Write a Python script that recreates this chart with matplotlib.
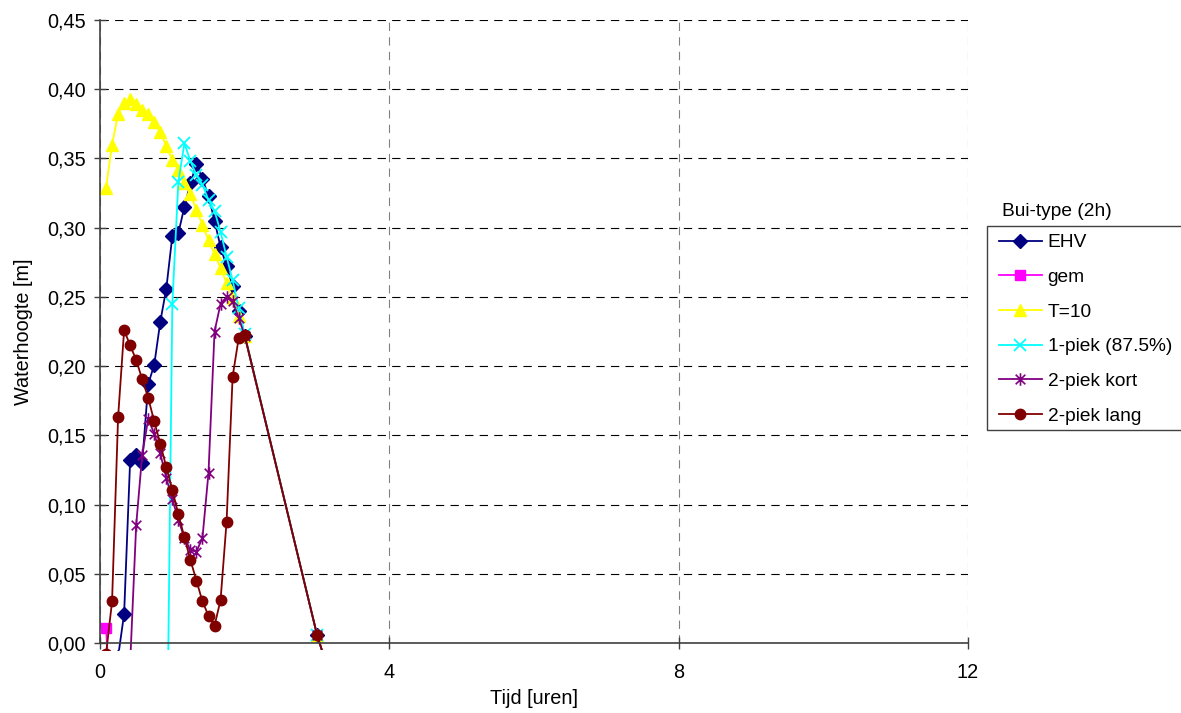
import numpy as np
import matplotlib
matplotlib.use('Agg')
import matplotlib.pyplot as plt
from matplotlib.path import Path
from matplotlib.patches import Rectangle
from matplotlib.transforms import Bbox, TransformedBbox
from matplotlib.ticker import FuncFormatter

nan = np.nan

# tijdstappen in minuten (5 min tot 2 uur, daarna per uur)
tijd_min = [5, 10, 15, 20, 25, 30, 35, 40, 45, 50, 55, 60,
            65, 70, 75, 80, 85, 90, 95, 100, 105, 110, 115, 120,
            180, 240]

# waterhoogte [m] per bui-type
ehv = [nan, nan, -0.010, 0.021, 0.132, 0.136, 0.130, 0.187, 0.201, 0.232, 0.256, 0.294,
       0.296, 0.315, 0.332, 0.346, 0.335, 0.323, 0.305, 0.286, 0.272, 0.258, 0.240, 0.222,
       0.006, -0.160]
gem = [0.0106, -0.060, nan, nan, nan, nan, nan, nan, nan, nan, nan, nan,
       nan, nan, nan, nan, nan, nan, nan, nan, nan, nan, nan, nan,
       nan, nan]
t10 = [0.329, 0.360, 0.382, 0.390, 0.393, 0.389, 0.385, 0.382, 0.376, 0.369, 0.359, 0.349,
       0.342, 0.332, 0.324, 0.313, 0.302, 0.291, 0.281, 0.271, 0.260, 0.249, 0.236, 0.222,
       0.006, -0.160]
piek1 = [nan, nan, nan, nan, nan, nan, nan, nan, nan, nan, -0.130, 0.245,
         0.333, 0.361, 0.348, 0.338, 0.331, 0.320, 0.312, 0.297, 0.279, 0.262, 0.242, 0.223,
         0.006, -0.160]
piek2_kort = [nan, nan, nan, nan, -0.015, 0.085, 0.136, 0.162, 0.151, 0.137, 0.119, 0.104,
              0.089, 0.076, 0.067, 0.066, 0.076, 0.123, 0.225, 0.245, 0.250, 0.247, 0.235, 0.222,
              0.006, -0.160]
piek2_lang = [-0.008, 0.030, 0.163, 0.226, 0.215, 0.2045, 0.1905, 0.177, 0.160, 0.144, 0.127, 0.1105,
              0.093, 0.0763, 0.060, 0.045, 0.030, 0.0197, 0.0125, 0.031, 0.0877, 0.1924, 0.220, 0.2225,
              0.006, -0.160]

labels = ['EHV', 'gem', 'T=10', '1-piek (87.5%)', '2-piek kort', '2-piek lang']

# ster-marker: kruis met verticale streep
ster = Path([(-1, -1), (1, 1), (-1, 1), (1, -1), (0, -1.3), (0, 1.3)],
            [Path.MOVETO, Path.LINETO, Path.MOVETO, Path.LINETO, Path.MOVETO, Path.LINETO])

stijl = [
    dict(color='#000080', marker='D', ms=7),
    dict(color='#FF00FF', marker='s', ms=6.5),
    dict(color='#FFFF00', marker='^', ms=8),
    dict(color='#00FFFF', marker='x', ms=8.5, mew=1.3),
    dict(color='#800080', marker=ster, ms=9, mew=1.2, mfc='none'),
    dict(color='#800000', marker='o', ms=7.5),
]

plt.rcParams['font.family'] = ['Liberation Sans', 'DejaVu Sans']
plt.rcParams['font.size'] = 14.3
plt.rcParams['lines.scale_dashes'] = False

W, H = 1181, 713
fig = plt.figure(figsize=(W / 100, H / 100), dpi=100)
ax = fig.add_axes([100 / W, (H - 643) / H, 868 / W, 623 / H])

t = np.array(tijd_min) / 60.0
# lijnen mogen iets onder de as doorlopen
clip = TransformedBbox(Bbox([[0, -0.012], [1, 1.0]]), ax.transAxes)
handles = []
for y, lab, st in zip([ehv, gem, t10, piek1, piek2_kort, piek2_lang], labels, stijl):
    ln, = ax.plot(t, y, lw=1.3, label=lab, **st)
    ln.set_clip_box(clip)
    handles.append(ln)

ax.set_xlim(0, 12)
ax.set_ylim(0, 0.45)
ax.set_xticks([0, 4, 8, 12])
ax.set_yticks(np.arange(0, 0.451, 0.05))
ax.yaxis.set_major_formatter(FuncFormatter(lambda v, p: f'{v:.2f}'.replace('.', ',')))

ax.grid(axis='y', color='#000000', lw=0.8, linestyle=(0, (6, 4.5)))
ax.grid(axis='x', color='#808080', lw=0.8, linestyle=(0, (6, 4.5)))
for s in ['top', 'right']:
    ax.spines[s].set_visible(False)
for s in ['left', 'bottom']:
    ax.spines[s].set_color('#404040')
    ax.spines[s].set_linewidth(1.2)
ax.tick_params(direction='inout', length=9, width=1, color='#404040')
ax.tick_params(axis='x', pad=10)
ax.tick_params(axis='y', pad=6)
ax.set_axisbelow(True)

ax.set_xlabel('Tijd [uren]', labelpad=5)
ax.set_ylabel('Waterhoogte [m]', labelpad=10)

# legenda met titel boven het kader
fig.text(1002 / W, 1 - 211 / H, 'Bui-type (2h)', ha='left', va='center', fontsize=13.8)
fig.patches.append(Rectangle((987 / W, 1 - 430 / H), 220 / W, 204 / H,
                             transform=fig.transFigure, fill=True, facecolor='white',
                             edgecolor='#404040', lw=1.0, zorder=1))
leg = fig.legend(handles=handles, loc='upper left', bbox_to_anchor=(995 / W, 1 - 230 / H),
                 frameon=False, handlelength=2.25, handletextpad=0.3, fontsize=13.8,
                 labelspacing=0.9, borderpad=0.2, borderaxespad=0)

fig.savefig('out.png', dpi=100)
